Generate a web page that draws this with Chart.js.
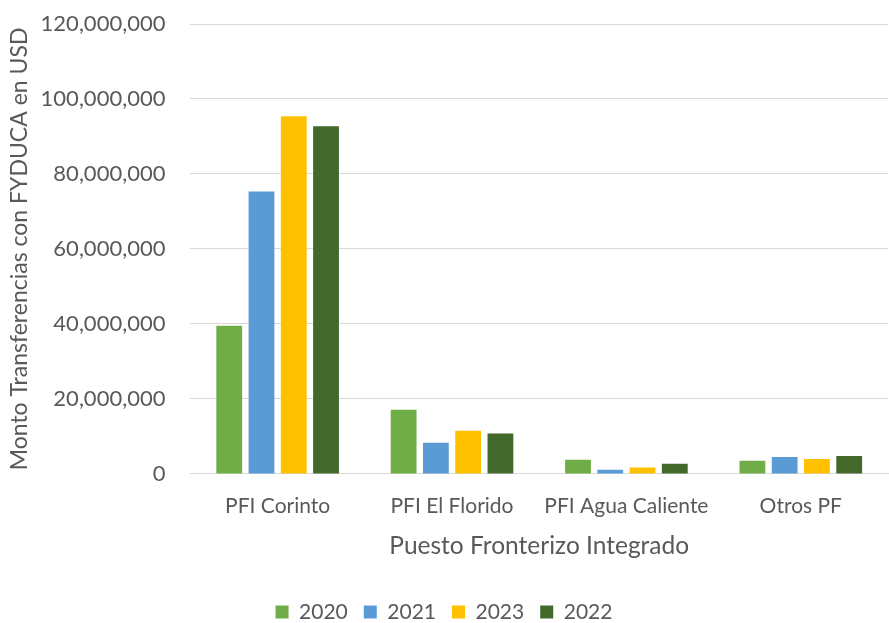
<!DOCTYPE html>
<html>
<head>
<meta charset="utf-8">
<script src="https://cdn.jsdelivr.net/npm/chart.js@4"></script>
<style>
  html, body { margin: 0; padding: 0; background: #fff; }
  #wrap { width: 889px; height: 623px; }
</style>
</head>
<body>
<div id="wrap"><canvas id="fyducaChart"></canvas></div>
<script>
// Categories and series
const puestos = ['PFI Corinto', 'PFI El Florido', 'PFI Agua Caliente', 'Otros PF'];
const monto2020 = [39500000, 17100000, 3800000, 3500000];
const monto2021 = [75300000, 8300000, 1100000, 4500000];
const monto2023 = [95400000, 11500000, 1700000, 4000000];
const monto2022 = [92700000, 10800000, 2700000, 4800000];
const yTicks = [0, 20000000, 40000000, 60000000, 80000000, 100000000, 120000000];

const fontFamily = 'Lato, "Liberation Sans", sans-serif';
const grey = '#595959';

let fyducaChart;

function buildChart() {
    var ctx = document.getElementById('fyducaChart').getContext('2d');

    if (fyducaChart) {
        fyducaChart.destroy();
    }

    fyducaChart = new Chart(ctx, {
        type: 'bar',
        data: {
            labels: puestos,
            datasets: [
                { label: '2020', data: monto2020, backgroundColor: '#70AD47' },
                { label: '2021', data: monto2021, backgroundColor: '#5B9BD5' },
                { label: '2023', data: monto2023, backgroundColor: '#FFC000' },
                { label: '2022', data: monto2022, backgroundColor: '#43682B' }
            ]
        },
        options: {
            responsive: true,
            maintainAspectRatio: false,
            animation: false,
            categoryPercentage: 0.74,
            barPercentage: 0.8,
            layout: { padding: { top: 24, left: 0, right: 1, bottom: 0 } },
            plugins: {
                tooltip: { enabled: false },
                legend: {
                    position: 'bottom',
                    maxHeight: 37.5, // keeps the row low, like the original
                    labels: {
                        color: grey,
                        font: { family: fontFamily, size: 21 },
                        boxWidth: 13,
                        boxHeight: 13,
                        padding: 16
                    }
                }
            },
            scales: {
                x: {
                    grid: { display: false },
                    border: { color: '#D9D9D9' },
                    ticks: {
                        color: grey,
                        font: { family: fontFamily, size: 21 },
                        padding: 12,
                        maxRotation: 0
                    },
                    title: {
                        display: true,
                        text: 'Puesto Fronterizo Integrado',
                        color: grey,
                        font: { family: fontFamily, size: 24.5 },
                        padding: { top: 0, bottom: 25 }
                    }
                },
                y: {
                    min: 0,
                    max: 120000000,
                    afterBuildTicks: function (axis) {
                        axis.ticks = yTicks.map(function (v) { return { value: v }; });
                    },
                    grid: { color: '#D9D9D9', drawTicks: true, tickLength: 23, tickColor: 'rgba(0,0,0,0)' },
                    border: { display: false },
                    ticks: {
                        color: grey,
                        font: { family: fontFamily, size: 22 },
                        padding: 2,
                        callback: function (v) { return v.toLocaleString('en-US'); }
                    },
                    title: {
                        display: true,
                        text: 'Monto Transferencias con FYDUCA en USD',
                        color: grey,
                        font: { family: fontFamily, size: 23 },
                        padding: { top: 6, bottom: 5 }
                    }
                }
            }
        }
    });
}

buildChart();
</script>
</body>
</html>
